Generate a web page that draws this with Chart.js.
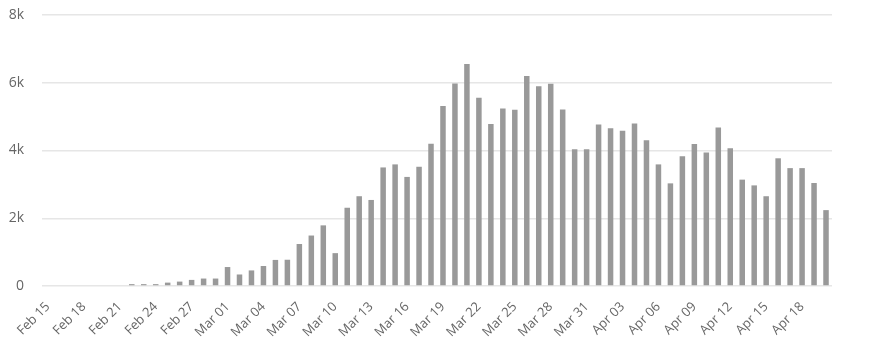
<!DOCTYPE html>
<html>
<head>
<meta charset="utf-8">
<script src="https://cdn.jsdelivr.net/npm/chart.js@4"></script>
<style>
    html, body { margin: 0; padding: 0; background: #fff; }
    #wrap { width: 870px; height: 350px; }
</style>
</head>
<body>
<div id="wrap"><canvas id="chart"></canvas></div>
<script>
const days = [
    'Feb 15', 'Feb 16', 'Feb 17', 'Feb 18', 'Feb 19', 'Feb 20', 'Feb 21', 'Feb 22', 'Feb 23', 'Feb 24',
    'Feb 25', 'Feb 26', 'Feb 27', 'Feb 28', 'Feb 29', 'Mar 01', 'Mar 02', 'Mar 03', 'Mar 04', 'Mar 05',
    'Mar 06', 'Mar 07', 'Mar 08', 'Mar 09', 'Mar 10', 'Mar 11', 'Mar 12', 'Mar 13', 'Mar 14', 'Mar 15',
    'Mar 16', 'Mar 17', 'Mar 18', 'Mar 19', 'Mar 20', 'Mar 21', 'Mar 22', 'Mar 23', 'Mar 24', 'Mar 25',
    'Mar 26', 'Mar 27', 'Mar 28', 'Mar 29', 'Mar 30', 'Mar 31', 'Apr 01', 'Apr 02', 'Apr 03', 'Apr 04',
    'Apr 05', 'Apr 06', 'Apr 07', 'Apr 08', 'Apr 09', 'Apr 10', 'Apr 11', 'Apr 12', 'Apr 13', 'Apr 14',
    'Apr 15', 'Apr 16', 'Apr 17', 'Apr 18', 'Apr 19', 'Apr 20'
];

// новые случаи за день
const newCases = [
    0, 0, 0, 0, 0, 0, 0, 55, 55, 55,
    100, 130, 180, 220, 220, 560, 340, 460, 590, 770,
    775, 1240, 1490, 1790, 970, 2310, 2650, 2540, 3500, 3590,
    3220, 3520, 4200, 5310, 5980, 6550, 5560, 4780, 5240, 5200,
    6200, 5900, 5970, 5210, 4040, 4040, 4770, 4660, 4580, 4800,
    4300, 3590, 3030, 3830, 4190, 3940, 4680, 4070, 3140, 2970,
    2650, 3770, 3480, 3480, 3040, 2240
];

const yTicks = [0, 2000, 4000, 6000, 8000];

const ctx = document.getElementById('chart').getContext('2d');
new Chart(ctx, {
    type: 'bar',
    data: {
        labels: days,
        datasets: [{
            data: newCases,
            backgroundColor: '#999999',
            categoryPercentage: 1,
            barPercentage: 0.46
        }]
    },
    options: {
        responsive: true,
        maintainAspectRatio: false,
        animation: false,
        layout: { padding: { top: 15, right: 38, left: 6, bottom: 0 } },
        plugins: { legend: { display: false }, tooltip: { enabled: false } },
        scales: {
            x: {
                grid: { display: false },
                border: { display: false },
                afterFit: s => { s.paddingLeft = 0; s.paddingRight = 0; s.height = 64; },
                ticks: {
                    autoSkip: false,
                    maxRotation: 45,
                    minRotation: 45,
                    padding: 5,
                    color: '#666',
                    font: { family: 'Open Sans', size: 13 },
                    callback: (v, i) => i % 3 === 0 ? days[i] : ''
                }
            },
            y: {
                min: 0,
                max: 8000,
                afterBuildTicks: axis => { axis.ticks = yTicks.map(v => ({ value: v })); },
                afterFit: s => { s.paddingTop = 0; s.paddingBottom = 0; s.width = 36; },
                grid: { color: '#e6e6e6', drawTicks: false, lineWidth: 1.5 },
                border: { display: false },
                ticks: {
                    padding: 18,
                    color: '#666',
                    font: { family: 'Open Sans', size: 14 },
                    callback: v => v === 0 ? '0' : (v / 1000) + 'k'
                }
            }
        }
    }
});
</script>
</body>
</html>
